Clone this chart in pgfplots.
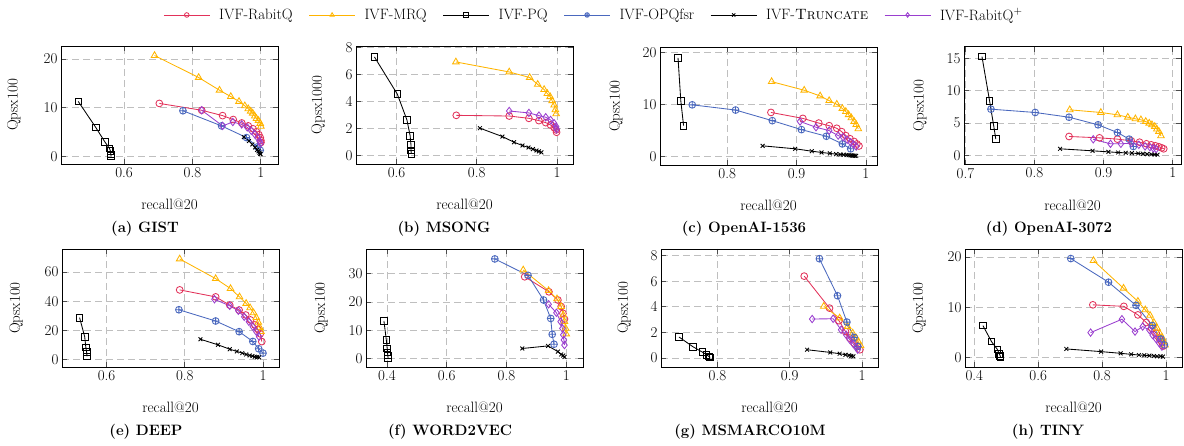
\documentclass[border=0pt]{standalone}
\usepackage{pgfplots}
\pgfplotsset{compat=1.18}
\definecolor{rqred}{HTML}{E2325A}
\definecolor{mrqyel}{HTML}{FFB400}
\definecolor{opqblue}{HTML}{4A68BE}
\definecolor{rqpurple}{HTML}{9A3FCF}
\newcommand{\fs}{\fontsize{15}{18}\selectfont}
\pgfplotsset{
  base/.style={
    scale only axis, width=217pt, height=118pt,
    font=\fs,
    tick label style={font=\fs},
    label style={font=\fs},
    /pgf/number format/assume math mode=true,
    axis line style={line width=0.9pt},
    grid=major, major grid style={gray!50, dash pattern=on 7pt off 4pt, line width=0.8pt},
    tick style={gray!60!black, line width=0.8pt}, major tick length=5pt,
    xlabel={recall@20},
    xlabel style={at={(axis description cs:0.5,-0.345)}, anchor=center},
    anchor=south west,
  },
  yl/.style={ylabel style={at={(axis description cs:#1,0.5)}, anchor=center}},
  lic/.style={legend image code/.code={\draw[mark repeat=2,mark phase=2,mark size=2.3pt] plot coordinates {(0pt,0pt) (23pt,0pt) (46pt,0pt)};}},
  every axis plot/.append style={line width=0.85pt, mark options={solid}},
  rq/.style={lic, color=rqred, mark=o, mark size=3.4pt},
  mrq/.style={lic, color=mrqyel, mark=triangle, mark size=3.8pt},
  pq/.style={lic, color=black, mark=square, mark size=3.3pt},
  opq/.style={lic, color=opqblue, mark=oplus, mark size=3.4pt},
  tr/.style={lic, color=black, mark=x, mark size=2.7pt},
  rqp/.style={lic, color=rqpurple, mark=diamond, mark size=3.7pt},
}
\begin{document}
\begin{tikzpicture}
\useasboundingbox (0pt,0pt) rectangle (1184pt,-445pt);
% (a) GIST
\begin{axis}[base, at={(61pt,-164pt)}, yl=-0.217,
  xmin=0.4155, xmax=1.05, ymin=-1.5, ymax=22.65,
  xtick={0.6,0.8,1}, ytick={0,10,20}, ylabel={Qpsx100},
  legend columns=6,
  legend style={draw=none, fill=none, font=\fs, at={(axis description cs:2.456,1.263)}, anchor=center,
    /tikz/every even column/.append style={column sep=14pt},
    /tikz/every odd column/.append style={column sep=7pt}},
]
\addplot[rq] coordinates {(0.703,10.9) (0.827,9.5) (0.888,8.4) (0.919,7.6) (0.944,6.9) (0.963,6.3) (0.977,5.7) (0.987,5.1) (0.994,4.5) (0.998,3.9) (1.0,3.3) (1.0,2.9)};
\addplot[mrq] coordinates {(0.689,20.7) (0.818,16.2) (0.879,13.6) (0.912,12.3) (0.936,11.3) (0.953,10.4) (0.963,9.8) (0.970,9.3) (0.976,8.9) (0.982,8.3) (0.987,7.8) (0.993,7.4) (0.998,6.8) (1.0,6.2)};
\addplot[pq] coordinates {(0.466,11.3) (0.517,6.0) (0.544,3.0) (0.557,1.7) (0.560,1.2) (0.561,0.5) (0.562,0.1)};
\addplot[opq] coordinates {(0.772,9.4) (0.885,6.3) (0.958,3.9) (0.990,2.0) (0.998,1.3)};
\addplot[tr] coordinates {(0.950,4.0) (0.965,3.2) (0.975,2.5) (0.983,1.9) (0.989,1.4) (0.993,1.1) (0.996,0.8) (0.998,0.6) (0.999,0.5)};
\addplot[rqp] coordinates {(0.827,9.5) (0.888,6.3) (0.918,7.1) (0.944,6.6) (0.960,6.0) (0.972,5.3) (0.982,4.6) (0.990,3.9) (0.996,3.2) (0.999,2.7)};
\legend{IVF-RabitQ, IVF-MRQ, IVF-PQ, IVF-OPQfsr, IVF-\textsc{Truncate}, IVF-RabitQ$^+$}
\end{axis}
% (b) MSONG
\begin{axis}[base, at={(356pt,-164pt)}, yl=-0.175,
  xmin=0.499, xmax=1.04, ymin=-0.61, ymax=8.12,
  xtick={0.6,0.8,1}, ytick={0,2,4,6,8}, ylabel={Qpsx1000}]
\addplot[rq] coordinates {(0.749,2.99) (0.881,2.94) (0.930,2.77) (0.955,2.60) (0.972,2.45) (0.984,2.28) (0.993,2.08) (0.998,1.91) (0.999,1.74)};
\addplot[mrq] coordinates {(0.748,6.94) (0.881,6.2) (0.932,5.79) (0.952,5.28) (0.968,4.9) (0.976,4.6) (0.983,4.37) (0.988,4.07) (0.993,3.75) (0.996,3.4) (0.998,3.1)};
\addplot[pq] coordinates {(0.545,7.31) (0.602,4.56) (0.626,2.65) (0.634,1.47) (0.636,0.81) (0.636,0.39) (0.637,0.15)};
\addplot[tr] coordinates {(0.808,2.04) (0.864,1.42) (0.893,1.0) (0.914,0.76) (0.929,0.61) (0.940,0.49) (0.949,0.39) (0.955,0.32) (0.961,0.25)};
\addplot[rqp] coordinates {(0.881,3.31) (0.930,3.17) (0.955,2.97) (0.972,2.85) (0.984,2.65) (0.993,2.4) (0.998,2.16) (0.999,1.96)};
\end{axis}
% (c) OpenAI-1536
\begin{axis}[base, at={(660pt,-165pt)}, yl=-0.203,
  xmin=0.703, xmax=1.016, ymin=-1.65, ymax=21.0,
  xtick={0.8,0.9,1}, ytick={0,10,20}, ylabel={Qpsx100}]
\addplot[rq] coordinates {(0.863,8.44) (0.909,7.3) (0.932,6.4) (0.947,5.9) (0.958,5.4) (0.965,4.76) (0.971,4.0) (0.977,3.4) (0.983,2.86) (0.987,2.4) (0.990,2.0)};
\addplot[mrq] coordinates {(0.864,14.35) (0.911,12.7) (0.934,11.6) (0.947,10.7) (0.958,10.0) (0.966,9.2) (0.971,8.6) (0.975,8.0) (0.979,7.4) (0.983,6.7) (0.986,6.1) (0.989,5.3)};
\addplot[pq] coordinates {(0.729,18.9) (0.733,10.7) (0.737,5.9)};
\addplot[opq] coordinates {(0.7495,9.9) (0.812,8.9) (0.865,6.86) (0.907,5.14) (0.943,3.87) (0.966,2.4) (0.978,1.46)};
\addplot[tr] coordinates {(0.851,2.03) (0.898,1.46) (0.922,1.0) (0.936,0.76) (0.948,0.57) (0.957,0.44) (0.963,0.38) (0.968,0.33) (0.972,0.28) (0.975,0.24) (0.978,0.2) (0.980,0.17) (0.982,0.15) (0.984,0.13) (0.986,0.11)};
\addplot[rqp] coordinates {(0.905,6.7) (0.928,5.6) (0.947,4.95) (0.960,4.0) (0.967,3.7) (0.973,3.2) (0.978,2.7) (0.982,2.3) (0.986,1.9)};
\end{axis}
% (d) OpenAI-3072
\begin{axis}[base, at={(964pt,-164.5pt)}, yl=-0.203,
  xmin=0.698, xmax=1.012, ymin=-1.39, ymax=16.8,
  xtick={0.7,0.8,0.9,1}, ytick={0,5,10,15}, ylabel={Qpsx100}]
\addplot[rq] coordinates {(0.850,2.93) (0.894,2.72) (0.920,2.52) (0.940,2.26) (0.952,2.05) (0.962,1.8) (0.969,1.64) (0.975,1.49) (0.980,1.34) (0.984,1.18) (0.987,1.03)};
\addplot[mrq] coordinates {(0.851,7.04) (0.896,6.63) (0.920,6.27) (0.935,5.9) (0.946,5.65) (0.954,5.5) (0.961,5.24) (0.966,4.98) (0.970,4.73) (0.974,4.47) (0.977,4.06) (0.980,3.7) (0.983,3.03)};
\addplot[pq] coordinates {(0.724,15.25) (0.735,8.42) (0.741,4.57) (0.744,2.52)};
\addplot[opq] coordinates {(0.737,7.14) (0.801,6.63) (0.850,5.9) (0.892,4.73) (0.920,3.54) (0.937,2.52) (0.943,1.39)};
\addplot[tr] coordinates {(0.837,1.03) (0.884,0.72) (0.907,0.56) (0.921,0.46) (0.932,0.41) (0.941,0.36) (0.950,0.31) (0.957,0.26) (0.963,0.2) (0.969,0.18) (0.974,0.15) (0.978,0.13)};
\addplot[rqp] coordinates {(0.885,2.5) (0.910,1.8) (0.925,1.8) (0.940,1.9) (0.951,1.65) (0.960,1.4) (0.967,1.28) (0.972,1.1) (0.976,1.0)};
\end{axis}
% (e) DEEP
\begin{axis}[base, at={(62pt,-367pt)}, yl=-0.212,
  xmin=0.486, xmax=1.041, ymin=-5.0, ymax=75.8,
  xtick={0.6,0.8,1}, ytick={0,20,40,60}, ylabel={Qpsx100}]
\addplot[rq] coordinates {(0.787,47.8) (0.879,43) (0.915,37.4) (0.939,34) (0.956,30.6) (0.968,27.2) (0.979,23.8) (0.987,20.8) (0.993,17.7) (0.997,12.4)};
\addplot[mrq] coordinates {(0.787,69) (0.879,55.5) (0.917,48.7) (0.940,43) (0.957,38.5) (0.967,35.5) (0.976,32.1) (0.983,28.8) (0.988,25.6) (0.992,22) (0.995,19.2)};
\addplot[pq] coordinates {(0.531,28.8) (0.544,15.8) (0.547,8.4) (0.549,5.2) (0.550,2.3)};
\addplot[opq] coordinates {(0.785,34.2) (0.879,26.5) (0.939,19.2) (0.974,12.5) (0.989,7.5) (1.0,4.5)};
\addplot[tr] coordinates {(0.840,14) (0.885,10.2) (0.915,7.2) (0.933,5.7) (0.947,4.5) (0.957,3.6) (0.966,2.9) (0.973,2.5) (0.979,2.0) (0.985,1.8) (0.990,1.6)};
\addplot[rqp] coordinates {(0.876,41.4) (0.915,36.9) (0.937,33.5) (0.952,29.4) (0.964,26) (0.974,22.6) (0.983,19.2) (0.990,15.8)};
\end{axis}
% (f) WORD2VEC
\begin{axis}[base, at={(366pt,-367pt)}, yl=-0.207,
  xmin=0.33, xmax=1.056, ymin=-2.94, ymax=38.7,
  xtick={0.4,0.6,0.8,1}, ytick={0,10,20,30}, ylabel={Qpsx100}]
\addplot[rq] coordinates {(0.861,28.9) (0.942,23.6) (0.972,20.7) (0.983,18.4) (0.989,16) (0.994,14)};
\addplot[mrq] coordinates {(0.856,31.3) (0.941,24) (0.969,21.1) (0.983,18.4) (0.990,15.4) (0.994,13.1) (0.998,10.7) (1.0,8.7)};
\addplot[pq] coordinates {(0.390,13.3) (0.398,6.6) (0.401,3.6) (0.402,2.2) (0.403,1.1) (0.404,0.1)};
\addplot[opq] coordinates {(0.761,35.2) (0.872,29.4) (0.924,20.7) (0.948,14.2) (0.953,8.6) (0.959,5.1)};
\addplot[tr] coordinates {(0.853,3.6) (0.939,4.5) (0.972,2.5) (0.983,1.5) (0.990,1.1) (0.994,0.6)};
\addplot[rqp] coordinates {(0.941,19.2) (0.967,16.2) (0.981,13.1) (0.987,10.7) (0.990,8.4) (0.992,6.6) (0.994,4.8)};
\end{axis}
% (g) MSMARCO10M
\begin{axis}[base, at={(661pt,-367pt)}, yl=-0.17,
  xmin=0.722, xmax=1.022, ymin=-0.70, ymax=8.52,
  xtick={0.8,0.9,1}, ytick={0,2,4,6,8}, ylabel={Qpsx100}]
\addplot[rq] coordinates {(0.920,6.4) (0.955,3.9) (0.968,2.92) (0.977,2.08) (0.983,1.56) (0.989,1.17) (0.994,0.91) (0.997,0.65)};
\addplot[mrq] coordinates {(0.947,4.04) (0.969,3.13) (0.980,2.47) (0.987,1.95) (0.992,1.56) (0.995,1.25) (0.998,0.96)};
\addplot[pq] coordinates {(0.747,1.64) (0.766,0.89) (0.779,0.47) (0.785,0.26) (0.788,0.13) (0.790,0.05)};
\addplot[opq] coordinates {(0.941,7.76) (0.966,4.87) (0.979,2.81) (0.989,1.61) (0.994,0.91)};
\addplot[tr] coordinates {(0.924,0.65) (0.956,0.44) (0.969,0.34) (0.977,0.26) (0.982,0.21) (0.985,0.16) (0.988,0.13)};
\addplot[rqp] coordinates {(0.931,3.05) (0.960,3.07) (0.971,2.21) (0.978,1.82) (0.983,1.43) (0.988,1.09) (0.992,0.83) (0.994,0.65)};
\end{axis}
% (h) TINY
\begin{axis}[base, at={(965pt,-367pt)}, yl=-0.212,
  xmin=0.371, xmax=1.05, ymin=-1.86, ymax=21.6,
  xtick={0.4,0.6,0.8,1}, ytick={0,10,20}, ylabel={Qpsx100}]
\addplot[rq] coordinates {(0.771,10.5) (0.868,10.2) (0.912,8.5) (0.938,7.0) (0.955,5.85) (0.969,4.85) (0.979,3.85) (0.987,3.06) (0.993,2.33)};
\addplot[mrq] coordinates {(0.773,19.3) (0.867,13.8) (0.912,11.2) (0.935,9.5) (0.950,8.4) (0.962,7.0) (0.972,5.85) (0.980,4.85) (0.988,4.0) (0.993,3.2) (0.997,2.5)};
\addplot[pq] coordinates {(0.427,6.38) (0.454,3.19) (0.472,1.66) (0.478,0.8) (0.481,0.4) (0.482,0.13)};
\addplot[opq] coordinates {(0.702,19.7) (0.820,15.0) (0.906,10.4) (0.957,6.38) (0.984,3.72) (0.995,2.52)};
\addplot[tr] coordinates {(0.688,1.73) (0.797,1.2) (0.858,0.86) (0.891,0.66) (0.915,0.53) (0.932,0.47) (0.948,0.4) (0.962,0.33) (0.972,0.27) (0.983,0.27) (0.990,0.2)};
\addplot[rqp] coordinates {(0.764,4.98) (0.862,7.64) (0.903,5.18) (0.927,6.18) (0.948,5.5) (0.958,4.5) (0.969,3.72) (0.979,2.86) (0.987,2.2)};
\end{axis}
% captions
\begin{scope}[font=\fs\bfseries]
\node at (145pt,-229pt) {(a) GIST};
\node at (444pt,-229pt) {(b) MSONG};
\node at (744pt,-229pt) {(c) OpenAI-1536};
\node at (1049pt,-229pt) {(d) OpenAI-3072};
\node at (146pt,-432pt) {(e) DEEP};
\node at (450pt,-432pt) {(f) WORD2VEC};
\node at (750pt,-432pt) {(g) MSMARCO10M};
\node at (1048pt,-432pt) {(h) TINY};
\end{scope}
\end{tikzpicture}
\end{document}
